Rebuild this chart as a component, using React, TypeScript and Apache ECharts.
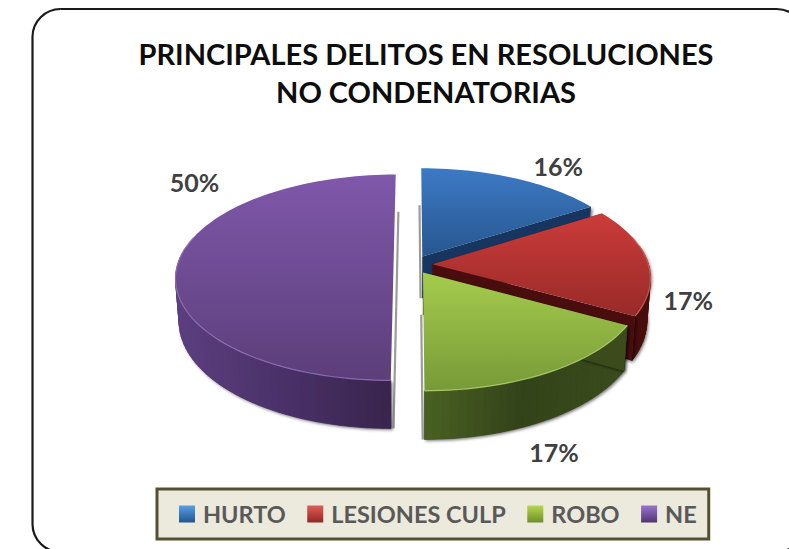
import React, { useEffect, useRef } from "react";
import * as echarts from "echarts";

const categories = ["HURTO", "LESIONES CULP", "ROBO", "NE"];
const values = [16, 17, 17, 50];
const percentLabels = ["16%", "17%", "17%", "50%"];
const titleLines = ["PRINCIPALES DELITOS EN RESOLUCIONES", "NO CONDENATORIAS"];

const topColors = [
  ["#3C7AC4", "#27568F"],
  ["#CB3C3A", "#982A28"],
  ["#A6CC4C", "#779A38"],
  ["#7F58AA", "#5C3E7A"],
];
const wallColors = [
  ["#1A3A66", "#14305A", "#17355F"],
  ["#4E100C", "#430C0A", "#4A0F0C"],
  ["#4A6222", "#33431A", "#3A4C1C"],
  ["#5C3F80", "#4A3168", "#38244C"],
];
const rimColors = ["#5D95D6", "#DD6A66", "#BEDD72", "#9A78C4"];
const legendColors = [
  ["#55A0E4", "#24548E"],
  ["#E25C58", "#922624"],
  ["#B4D84E", "#6F8F28"],
  ["#9A74CC", "#4F3474"],
];
const labelOffsets = [
  [44, -12],
  [41, 39],
  [5, 80],
  [17, -83],
];

const CX = 413;
const CY = 264.5;
const RX = 216;
const RY = 101.3;
const PERSPECTIVE = 0.126;
const EXPLODE = 0.09;
const DEPTH = 42;
const TAPER = 0.985;
const total = values.reduce((a, b) => a + b, 0);

function project(u: number, v: number, bottom: boolean): [number, number] {
  const s = 1 / (1 - PERSPECTIVE * v);
  let x = CX + RX * u * s;
  let y = CY + RY * v * s;
  if (bottom) {
    x = CX + (x - CX) * TAPER;
    y += DEPTH * s;
  }
  return [x, y];
}

const vertical = (a: string, b: string) =>
  new echarts.graphic.LinearGradient(0, 0, 0, 1, [
    { offset: 0, color: a },
    { offset: 1, color: b },
  ]);

function wallColor(wc: string[], f: number) {
  return echarts.color.lerp(Math.min(1, Math.max(0, f)), wc);
}

function sliceRenderer(index: number) {
  const before = values.slice(0, index).reduce((a, b) => a + b, 0);
  return (_params: any, api: any) => {
    const value = api.value(0);
    const a0 = (before / total) * Math.PI * 2;
    const a1 = ((before + value) / total) * Math.PI * 2;
    const mid = (a0 + a1) / 2;
    const ex = Math.sin(mid) * EXPLODE;
    const ey = -Math.cos(mid) * EXPLODE;
    const steps = Math.max(8, Math.round(((a1 - a0) * 180) / Math.PI / 2));
    const rim: [number, number][] = [];
    const rimLow: [number, number][] = [];
    const angles: number[] = [];
    for (let i = 0; i <= steps; i++) {
      const t = a0 + ((a1 - a0) * i) / steps;
      const u = Math.sin(t) + ex;
      const v = -Math.cos(t) + ey;
      angles.push(t);
      rim.push(project(u, v, false));
      rimLow.push(project(u, v, true));
    }
    const apex = project(ex, ey, false);
    const apexLow = project(ex, ey, true);
    const wc = wallColors[index];
    const isCut = (a: number) => Math.abs(Math.sin(a)) < 0.01;
    const shadow = {
      shadowBlur: 3,
      shadowOffsetX: 1.5,
      shadowOffsetY: 1.5,
      shadowColor: "rgba(0,0,0,0.55)",
    };
    const children: any[] = [];

    // soft shadow strips behind the straight cuts of the slices
    const strip = ex > 0 ? -1.6 : 2.4;
    const addStrip = (low: [number, number]) =>
      children.push({
        type: "line",
        shape: { x1: apexLow[0] + strip, y1: apexLow[1], x2: low[0] + strip, y2: low[1] },
        style: { stroke: "rgba(90,90,90,0.6)", lineWidth: 2.2 },
      });
    if (isCut(a0)) addStrip(rimLow[0]);
    if (isCut(a1)) addStrip(rimLow[steps]);

    // outer wall: only the part facing the viewer
    const visible = angles.map((t) => -Math.cos(t) > -0.2);
    const rimVis = rim.filter((_, i) => visible[i]);
    const lowVis = rimLow.filter((_, i) => visible[i]);
    if (rimVis.length > 1) {
      children.push({
        type: "polygon",
        shape: { points: rimVis.concat(lowVis.slice().reverse()) },
        style: { fill: wc[1], ...shadow },
      });
    }
    const xs = rim.map((p) => p[0]);
    const minX = Math.min(...xs);
    const maxX = Math.max(...xs);
    for (let i = 0; i < steps; i++) {
      if (!visible[i] || !visible[i + 1]) continue;
      const col = wallColor(wc, (rim[i][0] - minX) / (maxX - minX || 1));
      children.push({
        type: "polygon",
        shape: { points: [rim[i], rim[i + 1], rimLow[i + 1], rimLow[i]] },
        style: { fill: col, stroke: col, lineWidth: 0.7 },
      });
    }
    const faces: [number, [number, number], [number, number]][] = [
      [a0, rim[0], rimLow[0]],
      [a1, rim[steps], rimLow[steps]],
    ];
    faces.forEach(([a, top, low]) => {
      if (isCut(a)) return;
      children.push({
        type: "polygon",
        shape: { points: [apex, top, low, apexLow] },
        style: { fill: wc[2], ...shadow },
      });
    });
    children.push({
      type: "polygon",
      shape: { points: [apex, ...rim] },
      style: { fill: vertical(topColors[index][0], topColors[index][1]) },
    });
    const frontRim = rim.filter((_, i) => angles[i] > Math.PI * 0.4 && angles[i] < Math.PI * 1.6);
    if (frontRim.length > 1) {
      children.push({
        type: "polyline",
        shape: { points: frontRim },
        style: { stroke: rimColors[index], lineWidth: 1.2, fill: "none", opacity: 0.75 },
      });
    }
    const lu = Math.sin(mid) * (1 + EXPLODE);
    const lv = -Math.cos(mid) * (1 + EXPLODE);
    const lp = project(lu, lv, false);
    children.push({
      type: "text",
      x: lp[0] + labelOffsets[index][0],
      y: lp[1] + labelOffsets[index][1],
      style: {
        text: percentLabels[index],
        fill: "#404040",
        font: 'bold 25px Lato, "Open Sans", sans-serif',
        align: "center",
        verticalAlign: "middle",
      },
    });
    return { type: "group", children };
  };
}

export default function App() {
  const ref = useRef<HTMLDivElement>(null);
  useEffect(() => {
    const chart = echarts.init(ref.current!, null, { renderer: "svg" });
    chart.setOption({
      animation: false,
      backgroundColor: "#FFFFFF",
      title: {
        text: titleLines.join("\n"),
        left: 421,
        top: 29,
        textAlign: "center",
        textStyle: {
          fontFamily: "Lato",
          fontWeight: "bold",
          fontSize: 29,
          lineHeight: 38,
          color: "#0D0D0D",
        },
      },
      legend: {
        left: 157,
        top: 489,
        orient: "horizontal",
        backgroundColor: "#ECE9DD",
        borderColor: "#55502F",
        borderWidth: 3,
        borderRadius: 0,
        padding: [13, 12, 13, 22],
        itemWidth: 16,
        itemHeight: 17,
        itemGap: 21.5,
        textStyle: {
          fontFamily: "Lato",
          fontWeight: "bold",
          fontSize: 23.5,
          color: "#595959",
          padding: [0, 0, 0, 3],
        },
        data: categories.map((name, i) => ({
          name,
          icon: "rect",
          itemStyle: { color: vertical(legendColors[i][0], legendColors[i][1]) },
        })),
      },
      graphic: [
        {
          type: "rect",
          silent: true,
          z: -10,
          shape: { x: 32.5, y: 9, width: 772, height: 543, r: 28 },
          style: { fill: "#FFFFFF", stroke: "#1A1A1A", lineWidth: 2.2 },
        },
      ],
      series: categories.map((name, i) => ({
        type: "custom",
        name,
        coordinateSystem: "none",
        renderItem: sliceRenderer(i),
        data: [[values[i]]],
        itemStyle: { color: topColors[i][0] },
        z: 2,
      })),
    });
    return () => chart.dispose();
  }, []);
  return <div ref={ref} style={{ position: "fixed", left: 0, top: 0, width: 789, height: 549 }} />;
}
